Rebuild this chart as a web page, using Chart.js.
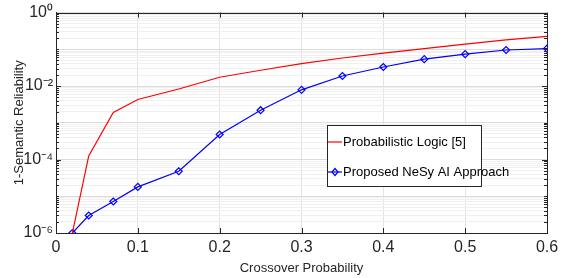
<!DOCTYPE html>
<html>
<head>
<meta charset="utf-8">
<script src="https://cdn.jsdelivr.net/npm/chart.js@4.4.1/dist/chart.umd.min.js"></script>
<style>
  html, body { margin: 0; padding: 0; background: #fff; }
  #wrap { width: 565px; height: 278px; }
</style>
</head>
<body>
<div id="wrap"><canvas id="chart"></canvas></div>
<script>
const crossover = [0.02, 0.04, 0.07, 0.1, 0.15, 0.2, 0.25, 0.3, 0.35, 0.4, 0.45, 0.5, 0.55, 0.6];
const probLogic = [1e-6, 1.26e-4, 1.9e-3, 4.3e-3, 8.3e-3, 1.74e-2, 2.7e-2, 4.1e-2, 5.8e-2, 7.9e-2, 1.05e-1, 1.39e-1, 1.8e-1, 2.24e-1];
const nesy = [1e-6, 3.0e-6, 7.2e-6, 1.8e-5, 4.8e-5, 4.8e-4, 2.2e-3, 7.9e-3, 1.88e-2, 3.3e-2, 5.4e-2, 7.4e-2, 9.6e-2, 1.05e-1];
const xTicks = [0, 0.1, 0.2, 0.3, 0.4, 0.5, 0.6];
const yTickLabels = { '0': '10⁰', '-2': '10⁻²', '-4': '10⁻⁴', '-6': '10⁻⁶' };
const seriesNames = ['Probabilistic Logic [5]', 'Proposed NeSy AI Approach'];

const FONT = "'Liberation Sans Narrow', 'Liberation Sans', Arial, sans-serif";
const AXIS = '#262626';

function expOf(v) {
    const e = Math.log10(v);
    return Math.abs(e - Math.round(e)) < 1e-9 ? Math.round(e) : null;
}

// frame box, inward ticks and the legend box (matlab style)
const framePlugin = {
    id: 'frame',
    afterDraw(chart) {
        const { ctx, chartArea: a, scales } = chart;
        ctx.save();
        ctx.strokeStyle = AXIS;
        ctx.lineWidth = 1;
        ctx.beginPath();
        xTicks.forEach(v => {
            const x = Math.round(scales.x.getPixelForValue(v)) + 0.5;
            ctx.moveTo(x, a.bottom); ctx.lineTo(x, a.bottom - 5);
            ctx.moveTo(x, a.top); ctx.lineTo(x, a.top + 5);
        });
        scales.y.ticks.forEach(t => {
            const y = Math.round(scales.y.getPixelForValue(t.value)) + 0.5;
            const e = expOf(t.value);
            const len = e !== null && e % 2 === 0 ? 5 : 3;
            ctx.moveTo(a.left, y); ctx.lineTo(a.left + len, y);
            ctx.moveTo(a.right, y); ctx.lineTo(a.right - len, y);
        });
        ctx.stroke();
        ctx.strokeRect(Math.round(a.left) + 0.5, Math.round(a.top) + 0.5, Math.round(a.right - a.left), Math.round(a.bottom - a.top));

        // legend
        const lx = 327, ly = 125, lw = 154, lh = 61;
        ctx.fillStyle = '#fff';
        ctx.fillRect(lx, ly, lw, lh);
        ctx.strokeStyle = AXIS;
        ctx.strokeRect(lx + 0.5, ly + 0.5, lw, lh);
        ctx.font = '13px ' + FONT;
        ctx.textBaseline = 'middle';
        ctx.fillStyle = '#000';
        const rows = [ly + 17, ly + 47];
        chart.data.datasets.forEach((ds, i) => {
            const y = rows[i];
            ctx.strokeStyle = ds.borderColor;
            ctx.lineWidth = 1.2;
            ctx.beginPath();
            ctx.moveTo(lx + 1, y); ctx.lineTo(lx + 15, y);
            ctx.stroke();
            if (ds.pointRadius > 0) {
                ctx.beginPath();
                ctx.moveTo(lx + 8, y - 3.5); ctx.lineTo(lx + 11, y);
                ctx.lineTo(lx + 8, y + 3.5); ctx.lineTo(lx + 5, y);
                ctx.closePath();
                ctx.stroke();
            }
            ctx.fillStyle = '#000';
            ctx.fillText(seriesNames[i], lx + 16, y);
        });
        ctx.restore();
    }
};

new Chart(document.getElementById('chart'), {
    type: 'line',
    data: {
        datasets: [
            {
                label: seriesNames[0],
                data: crossover.map((x, i) => ({ x, y: probLogic[i] })),
                borderColor: '#ff0000',
                borderWidth: 1.2,
                pointRadius: 0,
                tension: 0
            },
            {
                label: seriesNames[1],
                data: crossover.map((x, i) => ({ x, y: nesy[i] })),
                borderColor: '#0000ff',
                borderWidth: 1.2,
                pointStyle: 'rectRot',
                pointRadius: 3.5,
                pointBorderWidth: 1.2,
                pointBackgroundColor: 'rgba(0,0,0,0)',
                tension: 0
            }
        ]
    },
    options: {
        responsive: true,
        maintainAspectRatio: false,
        animation: false,
        layout: { padding: { top: 7, right: 18, left: 0, bottom: 0 } },
        plugins: { legend: { display: false }, tooltip: { enabled: false } },
        scales: {
            x: {
                type: 'linear',
                min: 0, max: 0.6,
                afterFit: s => { s.height = 45; },
                afterBuildTicks: s => { s.ticks = xTicks.map(v => ({ value: v })); },
                ticks: {
                    padding: 5,
                    color: AXIS,
                    font: { family: FONT, size: 16 },
                    callback: v => String(v)
                },
                grid: { color: '#e3e3e3', lineWidth: 1, drawTicks: false },
                border: { color: AXIS },
                title: {
                    display: true,
                    text: 'Crossover Probability',
                    color: AXIS,
                    font: { family: FONT, size: 13 },
                    padding: { top: 0, bottom: 2 }
                }
            },
            y: {
                type: 'logarithmic',
                min: 1e-6, max: 1,
                afterFit: s => { s.width = 56; },
                afterBuildTicks: s => {
                    const t = [];
                    for (let e = -6; e < 0; e++) {
                        for (let m = 1; m < 10; m++) t.push({ value: m * Math.pow(10, e) });
                    }
                    t.push({ value: 1 });
                    s.ticks = t;
                },
                ticks: {
                    padding: 3,
                    color: AXIS,
                    autoSkip: false,
                    font: { family: FONT, size: 16 },
                    callback: v => {
                        const e = expOf(v);
                        return e !== null && e % 2 === 0 ? yTickLabels[String(e)] : '';
                    }
                },
                grid: {
                    drawTicks: false,
                    lineWidth: 1,
                    color: c => expOf(c.tick.value) !== null ? '#dcdcdc' : '#f0f0f0'
                },
                border: { color: AXIS },
                title: {
                    display: true,
                    text: '1-Semantic Reliability',
                    color: AXIS,
                    font: { family: FONT, size: 13 },
                    padding: { top: 12, bottom: 0 }
                }
            }
        }
    },
    plugins: [framePlugin]
});
</script>
</body>
</html>
